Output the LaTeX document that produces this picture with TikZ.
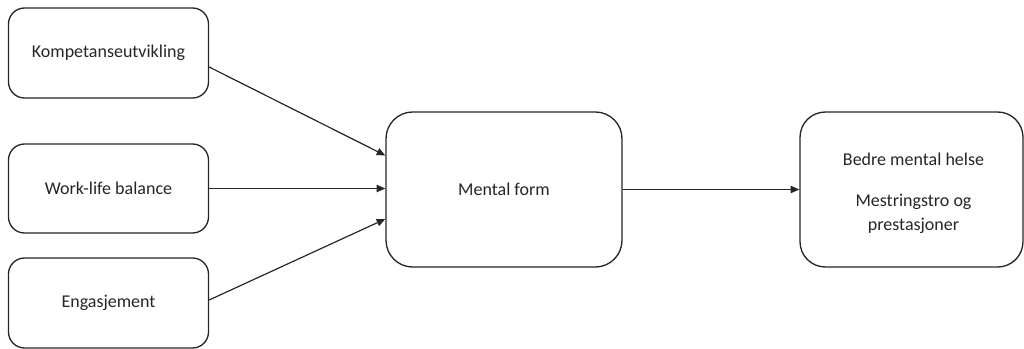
\documentclass[tikz,border=0pt]{standalone}
\usepackage{fontspec}
\setmainfont{Carlito}
\usetikzlibrary{arrows.meta,calc}
\begin{document}
\begin{tikzpicture}[x=0.75pt,y=-0.75pt,
  box/.style={draw=black!85,line width=1pt,fill=white,align=center,inner sep=0pt,
    font=\fontsize{13.5}{18}\selectfont,text=black!85},
  conn/.style={draw=black!85,line width=0.9pt,-{Triangle[length=6.5pt,width=5.5pt]}}]
\useasboundingbox (0,0) rectangle (1024,349);
\node[box,rounded corners=12pt,minimum width=150pt,minimum height=67.5pt] (k) at (108.5,53) {Kompetanseutvikling};
\node[box,rounded corners=12pt,minimum width=150pt,minimum height=66.75pt] (w) at (108.5,188.5) {Work-life balance};
\node[box,rounded corners=12pt,minimum width=150pt,minimum height=67.5pt] (e) at (108.5,303) {Engasjement};
\node[box,rounded corners=20pt,minimum width=177pt,minimum height=116.25pt] (m) at (504,189.5) {Mental form};
\node[box,rounded corners=19pt,minimum width=167.25pt,minimum height=116.25pt] (r) at (911.5,189.5) {};
\node[box,draw=none,fill=none] (rt) at (913.5,193) {Bedre mental helse\\[12.75pt]Mestringstro og\\prestasjoner};
\coordinate (k1) at ($(k.east)+(0,14)$);
\coordinate (e1) at ($(e.east)+(0,-3)$);
\coordinate (m1) at ($(m.west)+(0,-34)$);
\coordinate (m3) at ($(m.west)+(0,29.5)$);
\draw[conn] (k1) -- (m1);
\draw[conn] (w.east) -- (w.east -| m.west);
\draw[conn] (e1) -- (m3);
\draw[conn] (m.east) -- (r.west);
\end{tikzpicture}
\end{document}
